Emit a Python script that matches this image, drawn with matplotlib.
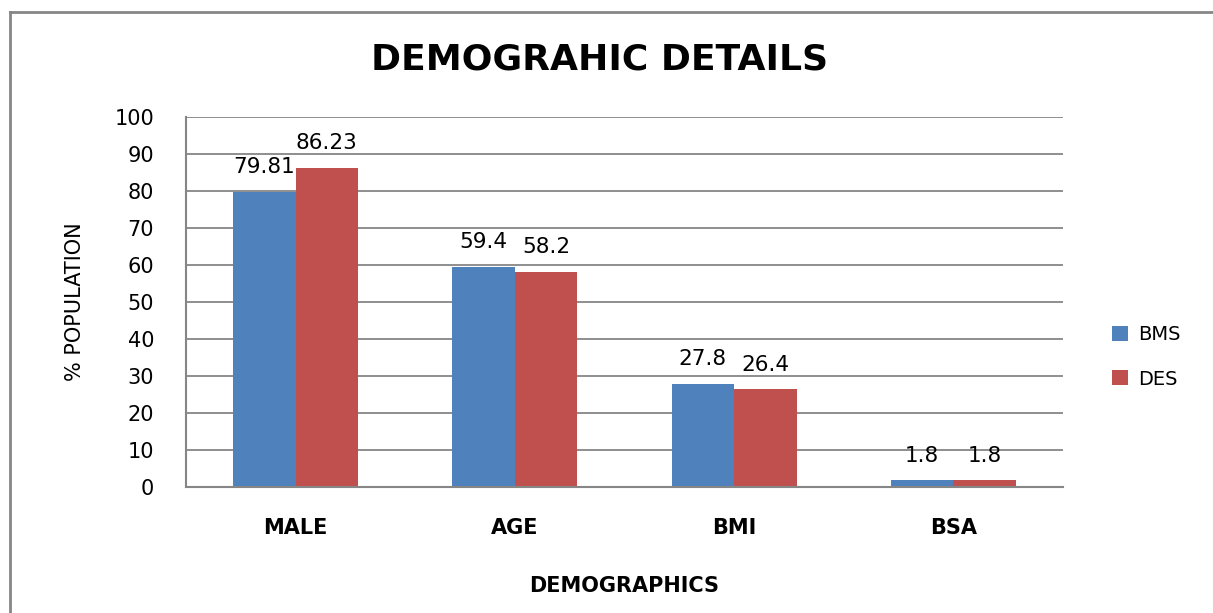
import matplotlib.pyplot as plt
from matplotlib.lines import Line2D
import numpy as np

categories = ['MALE', 'AGE', 'BMI', 'BSA']
bms = [79.81, 59.4, 27.8, 1.8]
des = [86.23, 58.2, 26.4, 1.8]
bms_labels = ['79.81', '59.4', '27.8', '1.8']
des_labels = ['86.23', '58.2', '26.4', '1.8']

plt.rcParams['font.family'] = ['DejaVu Sans']

W, H = 1213, 613
fig = plt.figure(figsize=(W / 100, H / 100), dpi=100)
ax = fig.add_axes([186 / W, 1 - 487 / H, 877 / W, 370 / H])

x = np.arange(len(categories))
w = 0.285
ax.bar(x - w / 2, bms, w, color='#4F81BD', label='BMS', zorder=2)
ax.bar(x + w / 2, des, w, color='#C0504D', label='DES', zorder=2)

# value labels above bars
for i in range(len(categories)):
    ax.text(x[i] - w / 2, bms[i] + 4.0, bms_labels[i], ha='center', va='bottom',
            fontsize=15.5, zorder=3)
    ax.text(x[i] + w / 2, des[i] + 4.0, des_labels[i], ha='center', va='bottom',
            fontsize=15.5, zorder=3)

ax.set_xlim(-0.5, 3.5)
ax.set_ylim(0, 100)
ax.set_yticks(range(0, 101, 10))
ax.set_xticks(x)
ax.set_xticklabels(categories, fontsize=15, fontweight='bold')
ax.tick_params(axis='y', labelsize=15, length=0, pad=23)
ax.tick_params(axis='x', length=0, pad=22)
ax.yaxis.grid(True, color='#868686', lw=1.3, zorder=0)
ax.set_axisbelow(True)
for s in ['top', 'right']:
    ax.spines[s].set_visible(False)
for s in ['left', 'bottom']:
    ax.spines[s].set_color('#868686')
    ax.spines[s].set_linewidth(1.5)

ax.set_ylabel('% POPULATION', fontsize=15, labelpad=21)
ax.set_xlabel('DEMOGRAPHICS', fontsize=15, fontweight='bold', labelpad=28)

fig.text(600 / W, 1 - 60 / H, 'DEMOGRAHIC DETAILS', ha='center', va='center',
         fontsize=26, fontweight='bold')

fig.legend(loc='center left', bbox_to_anchor=(1112 / W, 1 - 357 / H),
           frameon=False, fontsize=14, handlelength=0.8, handleheight=0.8,
           labelspacing=1.3, handletextpad=0.55, borderpad=0, borderaxespad=0)

# outer chart frame (only left and top visible)
fig.add_artist(Line2D([10 / W, 10 / W], [0, 1 - 12 / H],
                      transform=fig.transFigure, color='#868686', lw=2))
fig.add_artist(Line2D([10 / W, 1], [1 - 12 / H, 1 - 12 / H],
                      transform=fig.transFigure, color='#868686', lw=2))

fig.savefig('out.png', dpi=100)
